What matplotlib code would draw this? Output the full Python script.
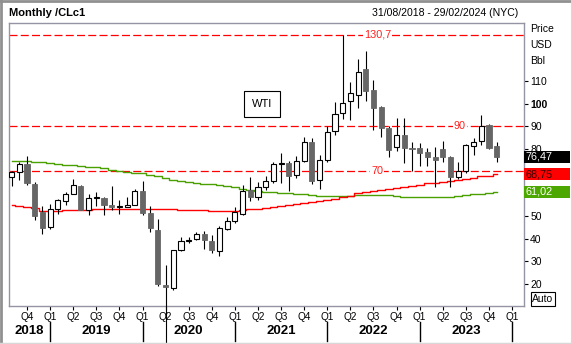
import matplotlib
matplotlib.use("Agg")
import matplotlib.pyplot as plt
import matplotlib.transforms as mtransforms
from matplotlib.patches import Rectangle
from matplotlib.lines import Line2D
import numpy as np

plt.rcParams['font.family'] = ['Liberation Sans', 'DejaVu Sans']

# monthly WTI (CLc1), Aug 2018 .. Nov 2023
opens = [67.7, 69.8, 73.2, 64.4, 52.0, 45.4, 53.5, 57.0, 60.1, 63.5, 52.8, 58.4,
         58.0, 55.1, 54.1, 54.3, 55.2, 61.1, 51.6, 44.0, 19.6, 18.3, 35.2, 39.0,
         39.9, 42.4, 39.1, 34.6, 44.3, 47.8, 51.2, 61.6, 58.8, 62.9, 65.9, 73.3,
         73.8, 68.4, 74.5, 83.1, 66.1, 75.2, 87.9, 95.9, 101.2, 104.0, 115.4, 106.2,
         98.5, 89.2, 80.8, 86.2, 80.2, 80.3, 78.8, 76.3, 79.9, 76.3, 67.4, 70.0,
         81.3, 83.6, 90.7, 81.3]
highs = [70.4, 74.0, 76.9, 65.5, 54.5, 55.4, 57.9, 60.7, 66.6, 63.9, 60.0, 60.9,
         58.8, 63.4, 57.5, 58.7, 62.3, 65.6, 54.7, 48.7, 28.4, 35.3, 40.8, 40.9,
         43.0, 43.4, 41.9, 45.8, 49.9, 54.0, 64.0, 67.5, 65.5, 67.8, 74.4, 78.4,
         74.5, 77.0, 85.4, 85.0, 77.2, 90.0, 101.0, 130.7, 109.9, 119.9, 123.7, 110.7,
         98.9, 90.4, 93.6, 93.7, 83.0, 82.6, 80.6, 80.8, 83.5, 77.0, 74.4, 82.0,
         84.8, 95.1, 91.0, 83.3]
lows = [63.7, 66.2, 64.0, 48.4, 42.4, 44.4, 51.2, 55.0, 59.9, 52.9, 50.6, 54.7,
        50.5, 52.9, 51.0, 54.0, 55.0, 50.6, 43.1, 19.3, -40.3, 17.3, 34.5, 38.0,
        39.5, 35.5, 33.9, 32.4, 44.0, 47.2, 50.7, 56.8, 57.3, 61.7, 64.8, 64.8,
        61.3, 67.3, 74.0, 64.4, 62.2, 74.3, 86.0, 93.5, 92.9, 98.1, 101.3, 88.3,
        85.5, 76.3, 79.3, 73.6, 70.1, 72.5, 72.3, 63.3, 74.0, 63.0, 66.8, 69.2,
        77.3, 81.8, 80.1, 74.4]
closes = [69.8, 73.2, 64.9, 50.0, 45.0, 53.5, 57.2, 59.9, 63.9, 53.0, 58.2, 58.6,
          55.1, 54.1, 54.2, 55.2, 61.1, 51.6, 44.8, 20.1, 18.5, 35.2, 39.0, 39.5,
          42.2, 39.4, 35.0, 44.8, 48.2, 52.2, 61.4, 58.6, 63.0, 65.9, 73.3, 73.8,
          67.8, 74.5, 83.3, 65.6, 75.0, 87.7, 95.5, 100.3, 104.7, 114.4, 105.8, 98.4,
          89.2, 79.5, 86.2, 80.4, 79.9, 78.4, 76.6, 75.1, 76.3, 67.4, 70.4, 81.8,
          83.3, 90.4, 80.6, 76.47]
ma_red = [55.0, 54.8, 54.4, 53.6, 52.6, 52.4, 52.5, 52.8, 52.9, 52.9, 53.0, 53.1,
          53.2, 53.2, 53.2, 53.3, 53.3, 53.4, 53.5, 53.3, 53.3, 53.2, 52.9, 52.9,
          52.9, 52.8, 52.4, 52.4, 52.4, 52.5, 52.8, 53.1, 53.3, 53.8, 54.1, 54.7,
          55.1, 55.6, 56.1, 56.5, 56.9, 57.3, 57.8, 58.5, 59.3, 60.4, 61.0, 61.4,
          61.9, 62.3, 62.7, 63.0, 63.6, 64.2, 64.7, 65.0, 65.3, 65.6, 66.2, 66.8,
          67.3, 67.8, 68.2, 68.75]
ma_green = [74.5, 74.5, 74.5, 74.2, 74.0, 73.6, 73.2, 73.0, 72.8, 72.6, 72.2, 71.8,
            71.4, 70.8, 70.2, 69.7, 69.4, 69.1, 68.5, 67.8, 67.0, 66.1, 65.6, 65.2,
            64.9, 64.6, 64.3, 63.9, 63.5, 62.9, 62.3, 61.8, 61.4, 61.0, 60.8, 60.6,
            60.3, 60.1, 59.8, 59.5, 59.2, 59.1, 59.1, 59.1, 59.3, 59.6, 59.6, 59.6,
            59.6, 59.4, 59.0, 58.6, 58.5, 58.5, 58.5, 58.5, 58.6, 58.8, 59.1, 59.4,
            59.8, 60.2, 60.6, 61.02]
levels = [130.7, 90, 70]
level_labels = ['130,7', '90', '70']
quarter_labels = ['Q4'] + ['Q1', 'Q2', 'Q3', 'Q4'] * 5 + ['Q1']
years = ['2018', '2019', '2020', '2021', '2022', '2023']

W, H = 572, 344
fig = plt.figure(figsize=(W / 100, H / 100), dpi=100)
fig.patch.set_facecolor('white')
ax = fig.add_axes([9 / W, 1 - 306 / H, 515 / W, 283 / H])
ax.set_xlim(-0.34, 66.55)
ax.set_ylim(10.2, 136)

x = np.arange(len(closes))
bw = 0.66
for i in x:
    o, h, l, c = opens[i], highs[i], lows[i], closes[i]
    up = c >= o
    ax.plot([i, i], [l, h], color='black', lw=0.8, zorder=3,
            clip_on=(l > 0), solid_capstyle='butt')
    bot = min(o, c)
    ht = max(abs(c - o), 0.45)
    if up:
        ax.add_patch(Rectangle((i - bw / 2, bot), bw, ht, facecolor='white',
                               edgecolor='black', lw=0.8, zorder=4))
    else:
        ax.add_patch(Rectangle((i - bw / 2, bot), bw, ht, facecolor='#666666',
                               edgecolor='#666666', lw=0.6, zorder=4))

ax.plot(x, ma_green, color='#4aa000', lw=1.0, drawstyle='steps-mid', zorder=2)
ax.plot(x, ma_red, color='#ff0000', lw=1.0, drawstyle='steps-mid', zorder=2)

lbl_x = [47.5, 58.2, 47.5]
for v, t, lx in zip(levels, level_labels, lbl_x):
    ax.axhline(v, color='#ff0000', lw=0.9, ls=(0, (6.4, 2.6)), zorder=1)
    ax.text(lx, v, t, color='#ff2020', fontsize=7.8, ha='center', va='center',
            zorder=5, bbox=dict(facecolor='white', edgecolor='none', pad=0.6))

ax.text(262 / W, 1 - 104 / H, 'WTI', transform=fig.transFigure, fontsize=8,
        ha='center', va='center', zorder=6,
        bbox=dict(facecolor='white', edgecolor='black', lw=0.8,
                  boxstyle='square,pad=0.75'))

for s in ax.spines.values():
    s.set_color('#9494a4')
    s.set_linewidth(1.0)

# right price axis (60 and 70 sit under the value boxes)
ax.yaxis.tick_right()
yt = list(range(20, 120, 10))
ax.set_yticks(yt)
labs = ax.set_yticklabels(['' if v in (60, 70) else str(v) for v in yt])
for t, v in zip(labs, yt):
    if v == 100:
        t.set_fontweight('bold')
        t.set_fontsize(9)
ax.tick_params(axis='y', length=3, width=0.8, pad=1.5, labelsize=7.5,
               colors='black')

# quarter ticks
q_pos = [2 + 3 * k for k in range(len(quarter_labels))]
ax.set_xticks(q_pos)
ax.set_xticklabels(quarter_labels)
ax.tick_params(axis='x', length=3, width=0.8, pad=1.5, labelsize=7.2,
               colors='black')

bt = mtransforms.blended_transform_factory(ax.transData, fig.transFigure)
seps = [5, 17, 29, 41, 53, 65]
for s in seps:
    fig.add_artist(Line2D([s, s], [1 - 322 / H, 1 - 341 / H], color='black',
                          lw=1.0, transform=bt))
edges = [-0.34] + seps
for k, yr in enumerate(years):
    fig.text((edges[k] + edges[k + 1]) / 2, 1 - 331 / H, yr, transform=bt,
             ha='center', va='center', fontsize=9.5, fontweight='bold')

# header
fig.text(9 / W, 1 - 13 / H, 'Monthly /CLc1', fontsize=8, fontweight='bold',
         ha='left', va='center')
fig.text(518 / W, 1 - 13 / H, '31/08/2018 - 29/02/2024 (NYC)', fontsize=7.6,
         ha='right', va='center')

for yy, t in zip([29, 45, 61], ['Price', 'USD', 'Bbl']):
    fig.text(530 / W, 1 - yy / H, t, fontsize=7.5, ha='left', va='center')

# last value boxes
bx = mtransforms.blended_transform_factory(ax.transAxes, ax.transData)
box_vals = [closes[-1], ma_red[-1], ma_green[-1]]
box_fc = ['black', '#ff0000', '#4ca800']
box_tc = ['white', '#300000', 'white']
bh = 12 / 2.25
for v, fc, tc in zip(box_vals, box_fc, box_tc):
    ax.add_patch(Rectangle((1.0, v - bh / 2), 46 / 515, bh, transform=bx,
                           facecolor=fc, edgecolor='none', clip_on=False,
                           zorder=7))
    ax.text(1.0 + 2 / 515, v, f'{v:.2f}'.replace('.', ','), transform=bx,
            color=tc, fontsize=7.8, ha='left', va='center', zorder=8,
            clip_on=False)

fig.text(543 / W, 1 - 299 / H, 'Auto', fontsize=7.5, ha='center', va='center',
         bbox=dict(facecolor='white', edgecolor='black', lw=0.8,
                   boxstyle='square,pad=0.15'))

# outer frame
fig.add_artist(Line2D([0.5 / W, 0.5 / W], [0, 1], color='#909090', lw=2.0))
fig.add_artist(Line2D([0, 1], [1 - 0.5 / H, 1 - 0.5 / H], color='#909090', lw=2.0))
fig.add_artist(Line2D([1 - 0.5 / W, 1 - 0.5 / W], [0, 1], color='#d8d8d8', lw=1.5))
fig.add_artist(Line2D([0, 1], [0.5 / H, 0.5 / H], color='#d8d8d8', lw=2.5))

fig.savefig('out.png', dpi=100, facecolor='white')
